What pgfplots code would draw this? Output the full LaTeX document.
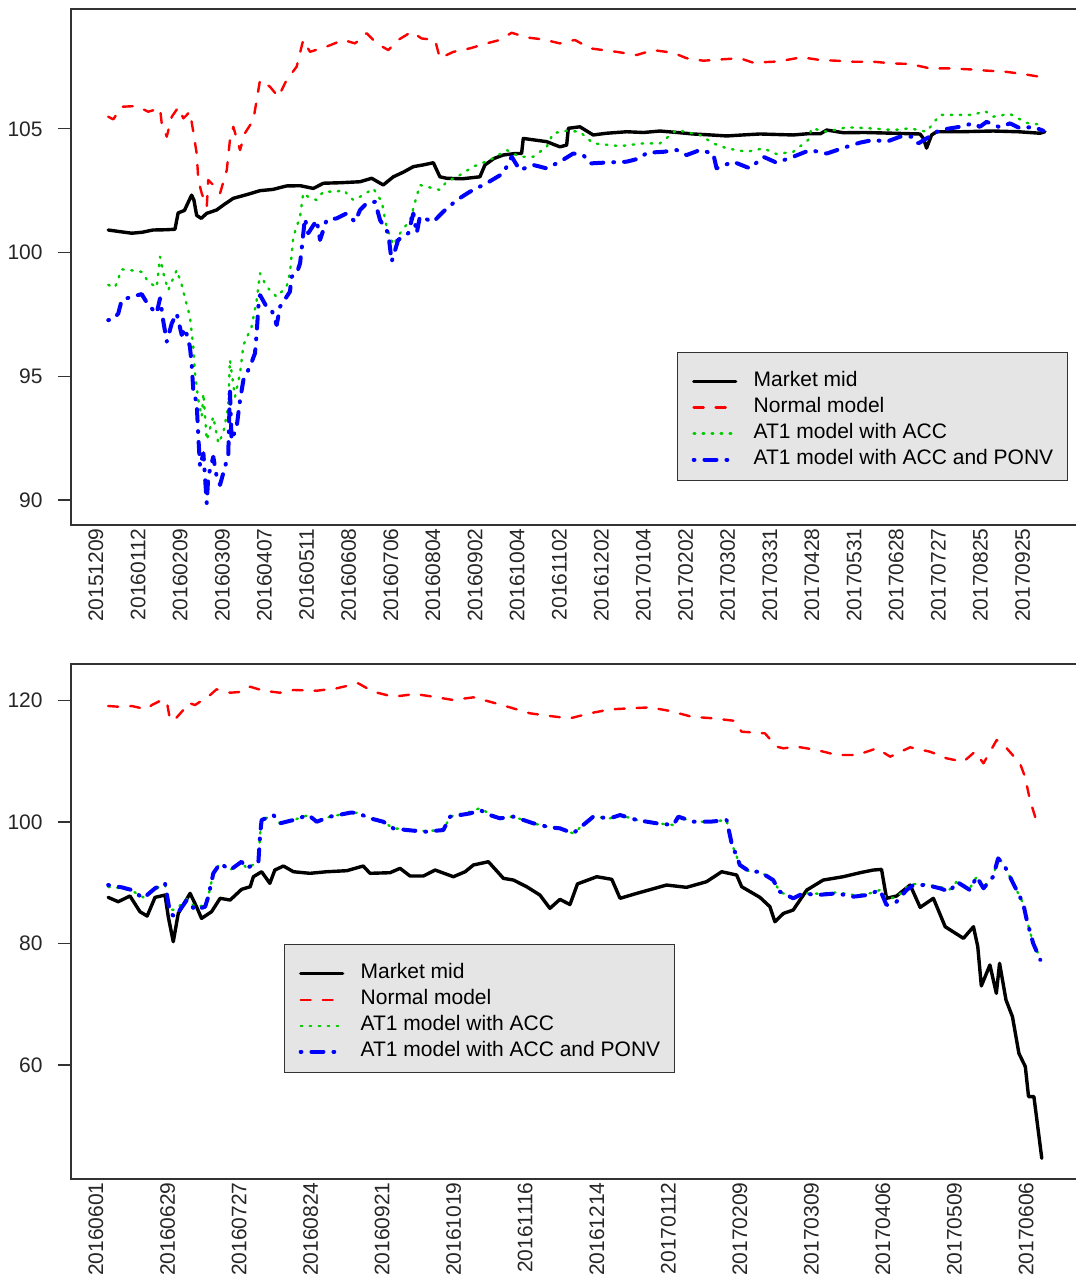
\documentclass[border=0pt]{standalone}
\usepackage{fontspec}
\setmainfont{Liberation Sans}
\usepackage{pgfplots}
\pgfplotsset{compat=1.18}
\definecolor{rgreen}{HTML}{00CD00}
\definecolor{lgray}{HTML}{E5E5E5}
\pgfplotsset{
  rstyle/.style={
    scale only axis,
    axis line style={black!80, line width=0.7pt},
    tick style={black!80, line width=0.7pt},
    xtick style={draw=none},
    ytick pos=left,
    tick align=outside,
    major tick length=6.5pt,
    tick label style={font=\fontsize{10.5}{12.6}\selectfont, text=black!85},
    /pgf/number format/assume math mode=true,
    xticklabel shift={-6.5pt},
    xticklabel style={rotate=90, anchor=east, inner sep=1.5pt},
    yticklabel style={inner sep=0pt, xshift=-7.5pt},
    legend cell align=left,
    legend image code/.code={\draw[##1] (0pt,-2pt) -- (21pt,-2pt);},
    legend style={draw=black!80, line width=0.7pt, fill=lgray,
      font=\fontsize{10.5}{12.6}\selectfont,
      inner xsep=7pt, inner ysep=7.5pt, row sep=3pt,
      /tikz/every odd column/.append style={column sep=8pt},
      nodes={inner sep=0pt, text height=9.5pt, text depth=0.5pt}},
  },
  mid/.style={black, line width=1.7pt, line cap=round, line join=round},
  nrm/.style={red, line width=1.2pt, line cap=round, line join=round, dash pattern=on 5pt off 6pt},
  acc/.style={rgreen, line width=1.2pt, line cap=round, line join=round, dash pattern=on 0.8pt off 3.7pt},
  ponv/.style={blue, line width=2pt, line cap=round, line join=round, dash pattern=on 0.4pt off 5pt on 6pt off 5pt},
}
\begin{document}
\begin{tikzpicture}
% ---------------- top panel ----------------
\begin{axis}[rstyle,
  at={(35.5pt,-262.5pt)}, anchor=south west,
  width=506pt, height=258pt,
  xmin=-11.87, xmax=468.7, ymin=88.99, ymax=109.84,
  ytick={90,95,100,105},
  xtick={0,20,...,440},
  xticklabels={20151209,20160112,20160209,20160309,20160407,20160511,20160608,20160706,20160804,20160902,20161004,20161102,20161202,20170104,20170202,20170302,20170331,20170428,20170531,20170628,20170727,20170825,20170925},
  legend style={at={(0.5988,0.3353)}, anchor=north west},
]
\addplot[mid] coordinates {
(5.8,100.91)(10,100.86)(17,100.78)(22,100.82)(27,100.91)(33,100.92)(37.5,100.94)(39,101.6)(42,101.7)(45.4,102.32)(46.5,102.12)(47.8,101.5)(50,101.38)(52.5,101.58)(57.3,101.72)(61,101.95)(65.2,102.19)(72,102.35)(77.9,102.5)(84,102.55)(90.5,102.69)(97,102.7)(103.2,102.59)(108,102.8)(116,102.82)(125.4,102.86)(130.9,103.0)(136.4,102.73)(141.2,103.06)(146,103.25)(150.7,103.47)(156,103.55)(160.2,103.63)(163.3,103.06)(166.5,103.0)(174,102.98)(182.3,103.06)(184.7,103.54)(189,103.8)(193.4,103.94)(199,104.0)(202.1,104.0)(202.9,104.61)(208,104.55)(214,104.48)(220.3,104.27)(223.5,104.34)(224.3,105.02)(229.8,105.08)(236.1,104.75)(242.5,104.82)(252,104.88)(260,104.85)(267.8,104.91)(276,104.85)(283.6,104.79)(292,104.75)(299.5,104.71)(307,104.75)(315.3,104.79)(323,104.77)(331.1,104.75)(338,104.8)(344,104.8)(347,104.95)(354.9,104.84)(365,104.85)(378.6,104.82)(391.3,104.79)(393,104.6)(394.4,104.22)(396.8,104.75)(399.2,104.88)(410,104.88)(426.1,104.91)(438,104.88)(448.3,104.82)(450.6,104.88)};
\addlegendentry{Market mid}
\addplot[nrm] coordinates {
(5.8,105.49)(8.2,105.38)(12.2,105.89)(19.3,105.92)(24.8,105.69)(30.4,105.83)(31.2,105.22)(33.6,104.68)(36,105.49)(39.1,105.87)(41.5,105.42)(44.6,105.69)(46.2,104.88)(47.8,104.01)(48.6,102.93)(50.2,102.39)(52.6,101.85)(53.3,102.93)(56.5,102.66)(58.9,102.39)(62.1,103.33)(63.6,104.55)(65.2,105.08)(68.4,104.14)(70.7,104.82)(74.7,105.35)(76.3,106.16)(77.9,106.97)(82.6,106.7)(86.6,106.29)(90.5,106.97)(95.3,107.51)(98.4,108.59)(101.6,108.11)(109.5,108.32)(117.4,108.59)(123,108.45)(128.5,108.86)(133.3,108.45)(138.8,108.18)(143.5,108.59)(149.9,108.92)(154.6,108.65)(161,108.59)(163.3,107.85)(169.7,108.11)(177.6,108.25)(185.5,108.45)(191.8,108.59)(197.4,108.88)(204.5,108.69)(212.4,108.61)(220.3,108.45)(227.4,108.59)(234.6,108.25)(247.2,108.11)(256.7,107.98)(264.6,108.18)(274.1,108.07)(280.5,107.85)(288.4,107.75)(297.9,107.81)(305.8,107.85)(312.1,107.67)(321.6,107.71)(327.9,107.78)(335.1,107.89)(343.8,107.78)(351.7,107.75)(359.6,107.71)(369.1,107.71)(378.6,107.64)(386.5,107.62)(396,107.44)(405.5,107.44)(415,107.40)(422.9,107.35)(432.4,107.3)(440.3,107.21)(449.8,107.08)};
\addlegendentry{Normal model}
\addplot[acc] coordinates {
(5.8,98.69)(9,98.59)(12.2,99.32)(16.1,99.29)(21.7,99.22)(24.8,98.82)(28.8,98.59)(30.4,99.83)(32,99.16)(34.3,98.48)(38.3,99.29)(40.7,98.69)(42.3,98.15)(44.6,97.41)(46.2,96.19)(47,95.12)(48.6,94.04)(50.2,93.37)(51,94.31)(52.6,92.42)(55.7,93.37)(58.1,92.29)(60.4,92.7)(62.8,93.77)(63.6,95.66)(66,94.17)(68.4,95.12)(70,96.26)(73.9,97.0)(76.3,98.08)(77.9,99.16)(81,98.62)(85.8,98.21)(90.5,98.62)(92.1,99.16)(93.7,100.64)(96.9,101.45)(98.4,102.4)(100.8,102.25)(104.8,102.12)(107.9,102.46)(114.3,102.46)(117.4,102.53)(122.2,102.12)(126.9,102.32)(131.7,102.59)(135.7,102.05)(138,101.04)(141.2,100.3)(144.4,100.78)(149.1,101.31)(153.8,102.73)(157,102.66)(163.3,102.53)(166.5,102.86)(172.8,103.13)(179.1,103.47)(187.1,103.74)(195,104.14)(201.3,103.87)(207.6,103.87)(214,104.27)(217.1,104.82)(223.5,104.92)(229.8,104.88)(236.1,104.41)(248.8,104.3)(259.9,104.41)(267.8,104.41)(275.7,104.95)(286.8,104.75)(293.1,104.41)(299.5,104.21)(309,104.07)(316.9,104.21)(323.2,103.98)(331.1,104.07)(338.2,104.55)(339.8,105.02)(347,104.88)(356.5,105.06)(367.5,105.02)(378.6,104.95)(386.5,105.02)(394.4,104.88)(400.7,105.56)(410.2,105.56)(416.5,105.56)(422.1,105.72)(426.1,105.49)(434,105.6)(441.9,105.24)(449.8,105.15)};
\addlegendentry{AT1 model with ACC}
\addplot[ponv] coordinates {
(5.8,97.27)(8.2,97.3)(10.6,97.54)(12.2,98.08)(16.1,98.19)(21.7,98.32)(24.8,97.88)(28.8,97.54)(30.4,98.15)(32,97.2)(33.6,96.4)(36,97.14)(38.3,97.54)(40.7,96.67)(42.3,96.94)(44.6,96.19)(45.4,95.52)(46.2,94.44)(47.8,93.91)(48.6,92.56)(49.4,91.35)(51,91.89)(52.6,89.87)(53.3,90.94)(55.7,91.75)(57.3,90.94)(58.9,90.61)(61.3,91.35)(62.8,91.82)(63.6,94.44)(64.4,92.42)(66.8,92.96)(68.4,94.04)(70,94.85)(73.1,95.39)(75.5,95.93)(76.3,96.74)(77.1,97.81)(77.9,98.28)(81,97.81)(83.4,97.68)(85.8,97.07)(87.4,97.81)(92.1,98.42)(92.9,99.02)(95.3,99.16)(96.9,99.56)(97.7,100.17)(99.2,101.38)(100.8,100.78)(104.8,101.31)(106.4,100.51)(109.5,101.31)(114.3,101.38)(119,101.58)(123,101.24)(125.4,101.72)(128.5,101.99)(132.5,102.05)(134.9,101.31)(138.8,100.78)(140.4,99.63)(143.5,100.51)(148.3,100.78)(150.7,101.58)(152.3,100.78)(153.8,101.45)(160.2,101.24)(164.9,101.65)(171.3,102.12)(177.6,102.46)(185.5,102.8)(193.4,103.2)(197.4,103.87)(201.3,103.33)(207.6,103.54)(214,103.4)(220.3,103.67)(226.6,104.0)(231.4,103.94)(234.6,103.6)(240.9,103.63)(252,103.67)(258.4,103.81)(261.5,104.03)(269.4,104.07)(275.7,104.14)(280.5,103.94)(286.8,104.14)(293.1,104.0)(294.7,103.4)(302.6,103.67)(310.5,103.4)(316.9,103.87)(323.2,103.63)(331.1,103.87)(339,104.14)(347,104.0)(356.5,104.27)(362.8,104.44)(369.1,104.55)(375.5,104.48)(381.8,104.68)(388.1,104.68)(390.5,104.41)(394.4,104.61)(400.7,104.95)(410.2,105.08)(416.5,105.22)(419.7,105.08)(422.9,105.28)(429.3,105.06)(434,105.22)(438.8,105.02)(445.1,105.08)(449.8,104.92)};
\addlegendentry{AT1 model with ACC and PONV}
\end{axis}
% ---------------- bottom panel ----------------
\begin{axis}[rstyle,
  at={(35.5pt,-589.5pt)}, anchor=south west,
  width=503pt, height=257.5pt,
  xmin=-6.99, xmax=274.25, ymin=41.19, ymax=126.03,
  ytick={60,80,100,120},
  xtick={0,20,...,260},
  xticklabels={20160601,20160629,20160727,20160824,20160921,20161019,20161116,20161214,20170112,20170209,20170309,20170406,20170509,20170606},
  legend style={at={(0.2117,0.4563)}, anchor=north west},
]
\addplot[mid] coordinates {
(3.4,87.59)(6.2,86.87)(9.5,87.81)(12.3,85.22)(14.3,84.51)(16.5,87.59)(19.3,87.97)(20.2,84.4)(21.6,80.28)(23,84.95)(26.3,88.25)(28.1,86.05)(29.5,84.13)(32.3,85.22)(34.7,87.43)(37.5,87.15)(40.7,88.91)(43.1,89.34)(44,90.99)(46.3,91.81)(48.6,89.9)(50,92.09)(52.4,92.75)(55.2,91.81)(59.8,91.55)(64.5,91.81)(70.1,91.98)(74.7,92.75)(76.6,91.55)(82.2,91.65)(85,92.37)(87.8,91.1)(91.5,91.1)(94.8,92.09)(99.9,90.99)(103.2,91.81)(105.5,92.92)(109.7,93.46)(113.9,90.72)(116.7,90.44)(120.4,89.34)(124.1,87.97)(126.9,85.78)(129.7,87.26)(132.5,86.4)(134.6,89.8)(140,90.99)(144.2,90.56)(146.5,87.43)(151.2,88.25)(159.5,89.62)(165.1,89.24)(170.7,90.17)(174.9,91.81)(179.1,91.27)(180.5,89.34)(185.6,87.59)(188.4,86.05)(189.8,83.58)(192.2,84.95)(194.9,85.5)(198.7,88.79)(203.3,90.44)(208.9,90.99)(213.6,91.65)(217.3,92.09)(219.6,92.2)(221,87.43)(223.8,87.81)(227.6,89.62)(230.4,85.94)(234.1,87.43)(237.4,82.75)(242.5,80.84)(245.3,82.75)(246.5,79.5)(247.5,73.0)(249.9,76.45)(251.7,71.78)(252.6,76.72)(254.4,70.68)(256.2,67.93)(258,61.9)(259.8,59.7)(260.7,54.76)(262.2,54.76)(264.4,44.6)};
\addlegendentry{Market mid}
\addplot[nrm] coordinates {
(3.4,119.11)(6.2,119.0)(10,119.11)(14.2,118.56)(15.6,119.27)(18.4,120.1)(19.8,119.82)(20.7,116.8)(22.1,116.92)(24.4,118.45)(25.8,119.65)(27.7,119.27)(29.1,119.82)(31.9,120.92)(33.7,121.86)(37.5,121.3)(41.2,121.47)(43.1,122.29)(46.8,121.63)(51.4,121.3)(55.2,121.75)(61.7,121.63)(67.3,122.03)(73.3,122.85)(77.5,121.47)(83.1,120.64)(89.2,121.09)(94.3,120.64)(99.9,120.1)(105.5,120.54)(110.1,119.82)(115.7,118.89)(121.3,117.91)(126.9,117.46)(132.5,117.08)(138.1,117.91)(143.7,118.56)(149.3,118.73)(154.9,118.89)(160.5,118.29)(166.5,117.35)(172.6,117.08)(178.2,116.69)(180.5,114.88)(187,114.61)(190.3,112.41)(192.2,112.14)(195.9,112.41)(201.5,111.86)(207.1,111.04)(212.7,111.04)(218.3,112.14)(222,110.76)(227.6,112.31)(233.2,111.58)(237.8,110.49)(242.5,109.93)(245.7,111.58)(248.1,109.67)(251.8,113.51)(254.6,112.14)(258.3,109.67)(259.7,107.47)(261.1,103.62)(263.4,99.23)};
\addlegendentry{Normal model}
\addplot[acc] coordinates {
(3.4,89.3)(7.2,89.1)(10,88.7)(13.2,87.6)(16.5,89.0)(19.3,89.7)(20.7,85.6)(22.1,85.5)(25.4,87.3)(27.7,86.0)(30.5,86.3)(31.4,87.8)(32.8,91.55)(34.7,93.2)(37.5,92.09)(40.7,93.46)(42.1,92.37)(45.4,93.46)(45.9,98.13)(46.3,100.33)(49.6,101.15)(51.4,99.78)(55.2,100.33)(59.4,101.15)(61.7,100.05)(65.4,100.88)(71,101.53)(72.9,101.53)(76.6,100.61)(80.3,100.05)(83.1,98.96)(86.9,98.8)(92,98.5)(97.1,98.7)(99,100.88)(101.8,101.3)(104.6,101.7)(107.4,102.3)(110.1,101.3)(112.9,100.7)(116.7,100.88)(122.3,99.78)(126.9,99.12)(129.7,98.96)(133.4,98.13)(139,100.88)(143.7,100.61)(146.5,101.15)(151.2,100.33)(156.8,99.78)(161.4,99.51)(162.8,100.88)(167,100.05)(171.7,100.05)(176.3,100.33)(177.7,96.49)(180,92.92)(182.8,91.81)(185.6,91.81)(189.3,90.44)(191.2,88.52)(194.9,87.43)(197.7,88.25)(201.5,88.2)(207.1,88.4)(211.7,88.0)(215.5,88.1)(219.2,88.8)(221,87.4)(223.8,87.6)(226.6,89.2)(228.5,89.8)(232.2,89.7)(235.9,89.3)(238.7,88.9)(240.6,90.17)(244.3,89.1)(246.2,90.99)(248.1,89.3)(250.8,90.99)(252.2,94.3)(254.1,92.64)(256.4,89.9)(259.2,86.6)(260.2,83.86)(262,80.01)(264,77.6)};
\addlegendentry{AT1 model with ACC}
\addplot[ponv] coordinates {
(3.4,89.62)(7.2,89.24)(10,88.8)(13.2,87.43)(16.5,89.08)(19.3,89.9)(20.7,84.95)(22.1,84.4)(25.4,87.15)(27.7,85.5)(30.5,86.05)(31.4,87.7)(32.8,91.55)(34.7,93.2)(37.5,92.09)(40.7,93.46)(42.1,92.37)(45.4,93.46)(45.9,98.13)(46.3,100.33)(49.6,101.15)(51.4,99.78)(55.2,100.33)(59.4,101.15)(61.7,100.05)(65.4,100.88)(71,101.53)(72.9,101.53)(76.6,100.61)(80.3,100.05)(83.1,98.96)(86.9,98.68)(92,98.4)(97.1,98.68)(99,100.88)(101.8,101.15)(104.6,101.42)(107.4,101.97)(110.1,101.15)(112.9,100.61)(116.7,100.88)(122.3,99.78)(126.9,99.12)(129.7,98.96)(133.4,98.13)(139,100.88)(143.7,100.61)(146.5,101.15)(151.2,100.33)(156.8,99.78)(161.4,99.51)(162.8,100.88)(167,100.05)(171.7,100.05)(176.3,100.33)(177.7,96.49)(180,92.92)(182.8,91.81)(185.6,91.81)(189.3,90.44)(191.2,88.52)(194.9,87.43)(197.7,88.25)(201.5,87.97)(207.1,88.25)(211.7,87.7)(215.5,87.97)(219.2,88.8)(221,86.33)(223.8,86.87)(226.6,88.8)(228.5,89.62)(232.2,89.62)(235.9,89.08)(238.7,88.52)(240.6,90.17)(244.3,88.8)(246.2,90.99)(248.1,89.08)(250.8,90.99)(252.2,94.02)(254.1,92.64)(256.4,89.9)(259.2,86.6)(260.2,83.86)(262,80.01)(264,77.3)};
\addlegendentry{AT1 model with ACC and PONV}
\end{axis}
\pgfresetboundingbox
\path[use as bounding box] (0pt,0pt) rectangle (538pt,-640pt);
\end{tikzpicture}
\end{document}
